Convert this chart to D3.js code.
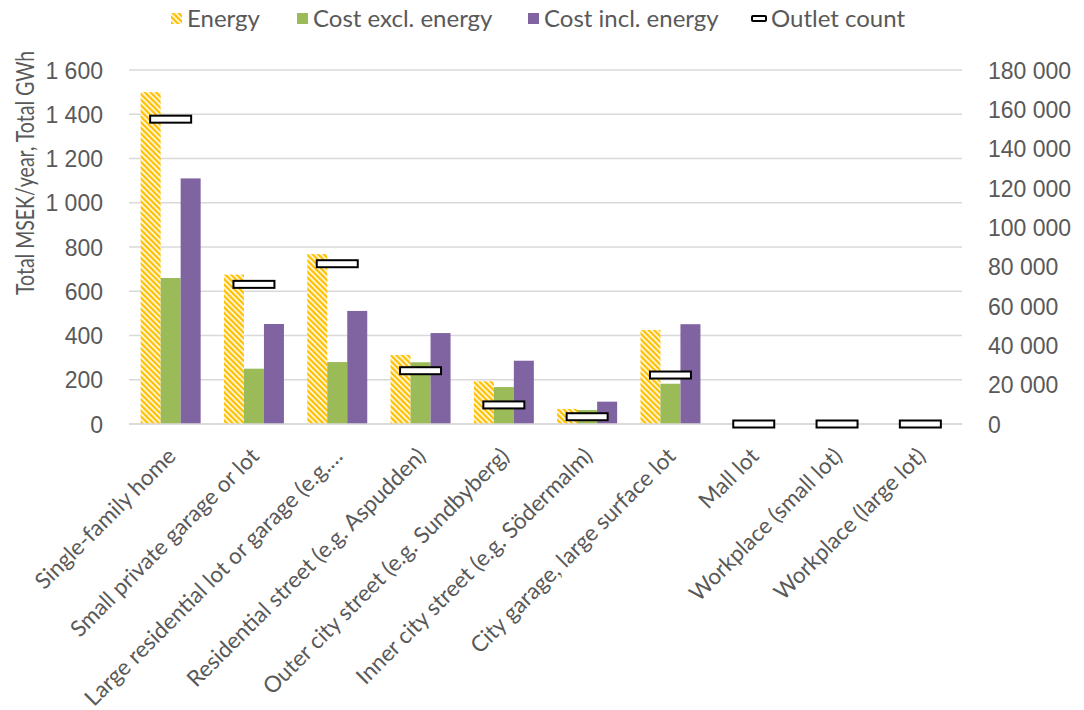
<!DOCTYPE html>
<html>
<head>
<meta charset="utf-8">
<script src="https://cdn.jsdelivr.net/npm/d3@7"></script>
<style>
  body { margin: 0; background: #fff; }
  svg { font-family: Lato, "Open Sans", sans-serif; }
</style>
</head>
<body>
<div id="chart"></div>
<script>
const categories = [
  "Single-family home",
  "Small private garage or lot",
  "Large residential lot or garage (e.g.…",
  "Residential street (e.g. Aspudden)",
  "Outer city street (e.g. Sundbyberg)",
  "Inner city street (e.g. Södermalm)",
  "City garage, large surface lot",
  "Mall lot",
  "Workplace (small lot)",
  "Workplace (large lot)"
];
const energy = [1500, 675, 768, 312, 193, 68, 425, 0, 0, 0];
const costExcl = [660, 250, 280, 279, 167, 63, 182, 0, 0, 0];
const costIncl = [1110, 452, 511, 411, 286, 101, 451, 0, 0, 0];
const outlets = [155000, 71000, 81500, 27100, 9700, 3700, 24900, 0, 0, 0];
const leftTicks = [0, 200, 400, 600, 800, 1000, 1200, 1400, 1600];
const rightTicks = [0, 20000, 40000, 60000, 80000, 100000, 120000, 140000, 160000, 180000];
const seriesNames = ["Energy", "Cost excl. energy", "Cost incl. energy", "Outlet count"];

const width = 1084, height = 710;
const plot = { left: 129, right: 962, top: 70, bottom: 424 };
const textColor = "#595959";
const gridColor = "#D9D9D9";

const svg = d3.select("#chart").append("svg")
  .attr("width", width)
  .attr("height", height);

// hatch for energy bars
const defs = svg.append("defs");
const pat = defs.append("pattern")
  .attr("id", "hatch")
  .attr("patternUnits", "userSpaceOnUse")
  .attr("width", 4)
  .attr("height", 4)
  .attr("patternTransform", "rotate(-45)");
pat.append("rect").attr("width", 4).attr("height", 4).attr("fill", "#fff");
pat.append("rect").attr("width", 2.4).attr("height", 4).attr("fill", "#FFC000");

const x = d3.scaleBand().domain(categories).range([plot.left, plot.right]);
const x1 = d3.scaleBand().domain([0, 1, 2]).range([-30, 30]);
const y = d3.scaleLinear().domain([0, 1600]).range([plot.bottom, plot.top]);
const y2 = d3.scaleLinear().domain([0, 180000]).range([plot.bottom, plot.top]);

const loc = d3.formatLocale({ decimal: ",", thousands: "\u00a0", grouping: [3], currency: ["", ""] });
const fmt = loc.format(",d");

// gridlines
svg.append("g")
  .selectAll("line")
  .data(leftTicks)
  .join("line")
  .attr("x1", plot.left)
  .attr("x2", plot.right)
  .attr("y1", d => y(d))
  .attr("y2", d => y(d))
  .attr("stroke", gridColor)
  .attr("stroke-width", 1.3);

// left axis
const leftAxis = svg.append("g")
  .attr("transform", `translate(${plot.left - 26},0)`)
  .call(d3.axisLeft(y).tickValues(leftTicks).tickFormat(fmt).tickSize(0).tickPadding(0));
leftAxis.select(".domain").remove();
leftAxis.selectAll("text")
  .attr("fill", textColor)
  .style("font-size", "23px")
  .attr("dy", "0.35em");

// right axis
const rightAxis = svg.append("g")
  .attr("transform", `translate(${plot.right + 26},0)`)
  .call(d3.axisRight(y2).tickValues(rightTicks).tickFormat(fmt).tickSize(0).tickPadding(0));
rightAxis.select(".domain").remove();
rightAxis.selectAll("text")
  .attr("fill", textColor)
  .style("font-size", "23px")
  .attr("dy", "0.35em");

// y title
svg.append("text")
  .attr("transform", "translate(34,173) rotate(-90) scale(0.78,1)")
  .attr("text-anchor", "middle")
  .attr("fill", textColor)
  .style("font-size", "25px")
  .text("Total MSEK/year, Total GWh");

// bars
const barSeries = [
  { values: energy, fill: "url(#hatch)" },
  { values: costExcl, fill: "#9BBB59" },
  { values: costIncl, fill: "#8064A2" }
];
barSeries.forEach((s, si) => {
  svg.append("g")
    .selectAll("rect")
    .data(s.values)
    .join("rect")
    .attr("x", (d, i) => x(categories[i]) + x.bandwidth() / 2 + x1(si))
    .attr("width", x1.bandwidth())
    .attr("y", d => y(d))
    .attr("height", d => y(0) - y(d))
    .attr("fill", s.fill);
});

// baseline
svg.append("line")
  .attr("x1", plot.left)
  .attr("x2", plot.right)
  .attr("y1", y(0))
  .attr("y2", y(0))
  .attr("stroke", gridColor)
  .attr("stroke-width", 1.5);

// outlet count markers
svg.append("g")
  .selectAll("rect")
  .data(outlets)
  .join("rect")
  .attr("x", (d, i) => x(categories[i]) + x.bandwidth() / 2 - 20.5)
  .attr("y", d => y2(d) - 3.5)
  .attr("width", 41)
  .attr("height", 7)
  .attr("fill", "#fff")
  .attr("stroke", "#000")
  .attr("stroke-width", 2);

// category labels
svg.append("g")
  .selectAll("text")
  .data(categories)
  .join("text")
  .attr("transform", d => `translate(${x(d) + x.bandwidth() / 2 + 1},${plot.bottom + 28}) rotate(-45)`)
  .attr("text-anchor", "end")
  .attr("dy", "0.35em")
  .attr("fill", textColor)
  .style("font-size", "22.5px")
  .text(d => d);

// legend
const legendItems = [
  { name: seriesNames[0], x: 171, kind: "hatch" },
  { name: seriesNames[1], x: 297, kind: "#9BBB59" },
  { name: seriesNames[2], x: 528, kind: "#8064A2" },
  { name: seriesNames[3], x: 752, kind: "marker" }
];
const lg = svg.append("g");
legendItems.forEach(it => {
  if (it.kind === "marker") {
    lg.append("rect")
      .attr("x", it.x).attr("y", 16)
      .attr("width", 14).attr("height", 5)
      .attr("rx", 1)
      .attr("fill", "#fff").attr("stroke", "#000").attr("stroke-width", 2);
  } else {
    lg.append("rect")
      .attr("x", it.x).attr("y", 13)
      .attr("width", 11).attr("height", 11)
      .attr("fill", it.kind === "hatch" ? "url(#hatch)" : it.kind);
  }
  lg.append("text")
    .attr("x", it.x + (it.kind === "marker" ? 19 : 16))
    .attr("y", 18.5)
    .attr("dy", "0.35em")
    .attr("fill", textColor)
    .style("font-size", "24px")
    .text(it.name);
});
</script>
</body>
</html>
